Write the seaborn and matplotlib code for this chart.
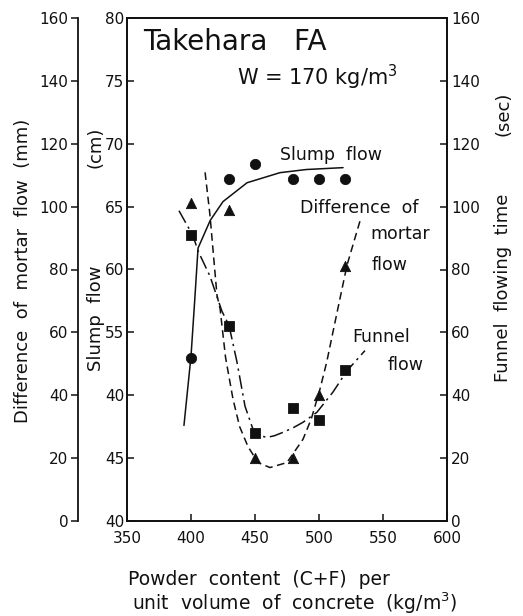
import numpy as np
import pandas as pd
import matplotlib
matplotlib.use("Agg")
import matplotlib.pyplot as plt
import seaborn as sns

sns.set_style("ticks")
plt.rcParams['font.family'] = ['DejaVu Sans']

# measured points (x = powder content, kg/m3)
powder = [400, 430, 450, 480, 500, 520]
slump_flow = [53.0, 67.2, 68.4, 67.2, 67.2, 67.2]          # cm
mortar_diff = [101, 99, 20, 20, 40, 81]                      # mm
funnel_time = [91, 62, 28, 36, 32, 48]                       # sec

# fitted curves
slump_curve_x = [394.5, 400, 403, 405.5, 415, 425, 443.8, 469.5, 490, 518.8]
slump_curve_y = [47.6, 53.1, 57.7, 61.7, 63.9, 65.4, 66.9, 67.7, 67.95, 68.1]

mortar_curve_x = [411, 414.8, 420.3, 422.7, 427, 432.8, 438, 444.5, 452.3, 461.7,
                  475, 487.5, 494, 500.8, 506, 511, 516, 521.9, 532.8]
mortar_curve_y = [110.9, 97.4, 71.8, 67.6, 52, 38.8, 30, 23.7, 18.6, 17.0,
                  18.6, 26.0, 32.5, 42.0, 50.5, 60.3, 70, 81.4, 96.5]

funnel_curve_x = [390.6, 401.6, 405.5, 414.8, 424.2, 429.7, 435.9, 442.2, 448.4,
                  453, 459.4, 465, 471.9, 480, 487.5, 498.4, 510.9, 521.9, 535.9]
funnel_curve_y = [98.7, 90.7, 85.9, 77.9, 66.7, 62.2, 50.6, 36.5, 29.2,
                  27.2, 26.6, 27.1, 28.2, 29.7, 31.4, 34.6, 41.0, 47.8, 54.2]

x_ticks = [350, 400, 450, 500, 550, 600]
slump_ticks = [40, 45, 50, 55, 60, 65, 70, 75, 80]
slump_tick_labels = ['40', '45', '40', '55', '60', '65', '70', '75', '80']
flow_ticks = [0, 20, 40, 60, 80, 100, 120, 140, 160]

W, H = 523, 616
fig = plt.figure(figsize=(W / 100, H / 100), dpi=100)
ax = fig.add_axes([127 / W, 1 - 521 / H, 320 / W, 503 / H])
ax_m = ax.twinx()
ax_f = ax.twinx()

ink = "#111111"
lw = 1.1

# slump flow (inner left axis)
sns.lineplot(x=slump_curve_x, y=slump_curve_y, ax=ax, color=ink, lw=lw, sort=False)
sns.scatterplot(x=powder, y=slump_flow, ax=ax, color=ink, marker='o', s=55, edgecolor=ink)

# difference of mortar flow (outer left axis)
sns.lineplot(x=mortar_curve_x, y=mortar_curve_y, ax=ax_m, color=ink, lw=lw, sort=False,
             dashes=False, linestyle=(0, (5, 3)))
sns.scatterplot(x=powder, y=mortar_diff, ax=ax_m, color=ink, marker='^', s=55, edgecolor=ink)

# funnel flowing time (right axis)
sns.lineplot(x=funnel_curve_x, y=funnel_curve_y, ax=ax_f, color=ink, lw=lw, sort=False,
             dashes=False, linestyle=(0, (9, 3, 1.5, 3)))
sns.scatterplot(x=powder, y=funnel_time, ax=ax_f, color=ink, marker='s', s=55, edgecolor=ink)

for a in (ax, ax_m, ax_f):
    a.set_xlim(350, 600)
    a.set_ylabel("")
    a.set_xlabel("")

ax.set_ylim(40, 80)
ax.set_yticks(slump_ticks)
ax.set_yticklabels(slump_tick_labels)
ax.set_xticks(x_ticks)
ax.tick_params(axis='both', direction='in', length=5, width=1.1, labelsize=11, colors=ink)
ax.tick_params(axis='y', pad=2)
ax.tick_params(axis='x', pad=7)

ax_m.set_ylim(0, 160)
ax_m.set_yticks(flow_ticks)
ax_m.yaxis.tick_left()
ax_m.spines['left'].set_position(('axes', -49 / 320))
for s in ('right', 'top', 'bottom'):
    ax_m.spines[s].set_visible(False)
ax_m.tick_params(axis='y', direction='out', length=5, width=1.1, labelsize=11, pad=2, colors=ink)

ax_f.set_ylim(0, 160)
ax_f.set_yticks(flow_ticks)
ax_f.tick_params(axis='y', direction='in', length=5, width=1.1, labelsize=11, pad=3, colors=ink)

for a in (ax, ax_m, ax_f):
    for s in a.spines.values():
        s.set_linewidth(1.3)
        s.set_color(ink)

# titles and curve labels
fig.text(143 / W, 1 - 50 / H, "Takehara   FA", fontsize=20, color=ink, va='baseline')
fig.text(237 / W, 1 - 85 / H, "W = 170 kg/m$^3$", fontsize=15, color=ink, va='baseline')
fig.text(280 / W, 1 - 160 / H, "Slump  flow", fontsize=12.5, color=ink, va='baseline')
fig.text(300 / W, 1 - 213 / H, "Difference  of", fontsize=12.5, color=ink, va='baseline')
fig.text(370 / W, 1 - 239 / H, "mortar", fontsize=12.5, color=ink, va='baseline')
fig.text(372 / W, 1 - 270 / H, "flow", fontsize=12.5, color=ink, va='baseline')
fig.text(352 / W, 1 - 342 / H, "Funnel", fontsize=12.5, color=ink, va='baseline')
fig.text(388 / W, 1 - 370 / H, "flow", fontsize=12.5, color=ink, va='baseline')

# axis titles
fig.text(23 / W, 1 - 271 / H, "Difference  of  mortar  flow  (mm)", rotation=90,
         fontsize=13, color=ink, ha='center', va='center')
fig.text(96 / W, 1 - 318 / H, "Slump  flow", rotation=90,
         fontsize=13, color=ink, ha='center', va='center')
fig.text(96 / W, 1 - 147 / H, "(cm)", rotation=90,
         fontsize=13, color=ink, ha='center', va='center')
fig.text(503 / W, 1 - 288 / H, "Funnel  flowing  time", rotation=90,
         fontsize=13, color=ink, ha='center', va='center')
fig.text(503 / W, 1 - 114 / H, "(sec)", rotation=90,
         fontsize=13, color=ink, ha='center', va='center')

fig.text(128 / W, 1 - 585 / H, "Powder  content  (C+F)  per", fontsize=13.5, color=ink, va='baseline')
fig.text(132 / W, 1 - 610 / H, "unit  volume  of  concrete  (kg/m$^3$)", fontsize=13.5, color=ink,
         va='baseline')

fig.savefig("out.png", dpi=100)
